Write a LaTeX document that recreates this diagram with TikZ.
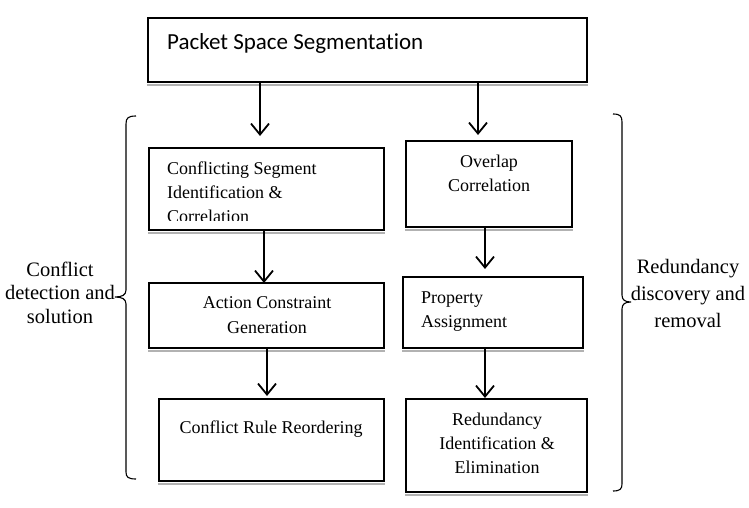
\documentclass[tikz,border=0pt]{standalone}
\usepackage{fontspec}
\setmainfont{Liberation Serif}
\newfontfamily\calibrifont[Ligatures=NoCommon]{Carlito}
\usetikzlibrary{arrows.meta}
\begin{document}
\begin{tikzpicture}[x=1pt,y=-1pt,
  box/.style={draw=black, line width=1.8pt, inner sep=0pt, fill=white},
  txt/.style={inner sep=0pt, font=\fontsize{18}{24}\selectfont},
  side/.style={inner sep=0pt, align=center, font=\fontsize{20.5}{23.5}\selectfont},
  arr/.style={line width=1.8pt, -{Straight Barb[length=11pt,width=18pt,line width=1.8pt]}},
  brace/.style={line width=1.1pt},
  shade/.style={fill=black!30}
]
\fill[white] (0,0) rectangle (749,508);
\useasboundingbox (0,0) rectangle (749,508);

% boxes
\node[box, minimum width=439pt, minimum height=64pt] (top) at (367.5,50) {};
\node[box, minimum width=235pt, minimum height=82pt] (conf) at (266.5,189) {};
\node[box, minimum width=235pt, minimum height=65pt] (act) at (266.5,315.5) {};
\node[box, minimum width=225pt, minimum height=82pt] (reord) at (271.5,440) {};
\node[box, minimum width=166pt, minimum height=86pt] (over) at (489,184) {};
\node[box, minimum width=180pt, minimum height=71pt] (prop) at (493,312.5) {};
\node[box, minimum width=181pt, minimum height=93pt] (red) at (496.5,445.5) {};

% shadows
\foreach \b in {top,conf,act,reord,over,prop,red}{
  \fill[shade] ([yshift=-0.9pt]\b.south west) rectangle ([yshift=-3.5pt]\b.south east);
}

% texts (multi-line nodes: base anchor = last line baseline)
\node[inner sep=0pt, anchor=base west, font=\calibrifont\fontsize{23}{26}\selectfont] (ttop) at (167,50) {Packet Space Segmentation};
\node[txt, anchor=base west] (tconf1) at (167,174) {Conflicting Segment};
\node[txt, anchor=base west] (tconf2) at (167,198) {Identification \&};
\begin{scope}
  \clip (150,150) rectangle (383,220);
  \node[txt, anchor=base west] (tconf3) at (167,222) {Correlation};
\end{scope}
\node[txt, anchor=base, align=center] (tact) at (267,333) {Action Constraint\\[1pt]Generation};
\node[txt, anchor=base] (treord) at (271,433) {Conflict Rule Reordering};
\node[txt, anchor=base, align=center] (tover) at (489,191) {Overlap\\Correlation};
\node[txt, anchor=base west, align=left] (tprop) at (421,327) {Property\\Assignment};
\node[txt, anchor=base, align=center] (tred) at (497,473) {Redundancy\\Identification \&\\Elimination};

\node[side, anchor=base] (lleft) at (60,323) {Conflict\\detection and\\solution};
\node[side, anchor=base, font=\fontsize{20.5}{27}\selectfont] (lright) at (688,327) {Redundancy\\discovery and\\removal};

% arrows
\coordinate (a1) at (260,136);
\coordinate (a2) at (478,135);
\draw[arr] (top.south -| a1) -- (a1);
\draw[arr] (top.south -| a2) -- (a2);
\coordinate (a3) at (264,283);
\draw[arr] (conf.south -| a3) -- (a3);
\coordinate (a4) at (267,396);
\draw[arr] (act.south -| a4) -- (a4);
\coordinate (a5) at (485,269);
\draw[arr] (over.south -| a5) -- (a5);
\coordinate (a6) at (485,398);
\draw[arr] (prop.south -| a6) -- (a6);

% braces
\draw[brace] (136,116) .. controls (128,116) and (126,118) .. (126,124) -- (126,290)
  .. controls (126,295) and (122,297) .. (115,297)
  .. controls (122,297) and (126,299) .. (126,304) -- (126,472)
  .. controls (126,477) and (128,479) .. (136,479);
\draw[brace] (613,114) .. controls (620,114) and (622,116) .. (622,122) -- (622,295)
  .. controls (622,300) and (625,302) .. (631,302)
  .. controls (625,302) and (622,304) .. (622,309) -- (622,484)
  .. controls (622,489) and (620,491) .. (613,491);
\end{tikzpicture}
\end{document}
